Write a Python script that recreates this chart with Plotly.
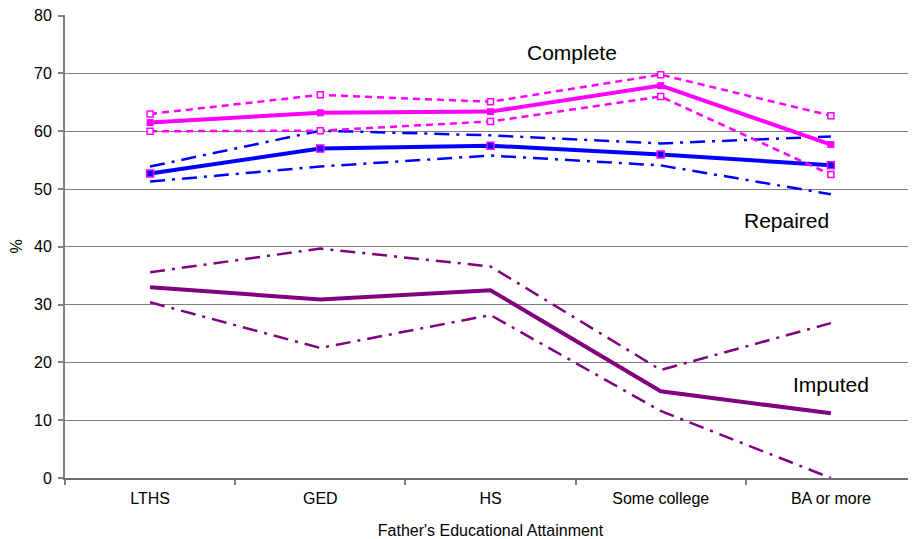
import plotly.graph_objects as go

categories = ["LTHS", "GED", "HS", "Some college", "BA or more"]

complete_mean = [61.5, 63.2, 63.4, 67.9, 57.7]
complete_upper = [63.0, 66.3, 65.1, 69.8, 62.7]
complete_lower = [60.0, 60.1, 61.7, 66.0, 52.5]

repaired_mean = [52.7, 57.0, 57.5, 56.0, 54.1]
repaired_upper = [53.9, 60.1, 59.3, 57.9, 59.1]
repaired_lower = [51.3, 53.9, 55.8, 54.1, 49.1]

imputed_mean = [33.0, 30.9, 32.5, 15.0, 11.2]
imputed_upper = [35.6, 39.7, 36.6, 18.7, 26.8]
imputed_lower = [30.4, 22.5, 28.2, 11.6, 0.0]

MAG = "#FF00FF"
BLUE = "#0000FF"
PURP = "#800080"
DASHDOT = "15px,7px,3px,7px"

fig = go.Figure()

# Imputed
fig.add_trace(go.Scatter(x=categories, y=imputed_upper, mode="lines",
                         line=dict(color=PURP, width=2.5, dash=DASHDOT)))
fig.add_trace(go.Scatter(x=categories, y=imputed_lower, mode="lines",
                         line=dict(color=PURP, width=2.5, dash=DASHDOT)))
fig.add_trace(go.Scatter(x=categories, y=imputed_mean, mode="lines",
                         line=dict(color=PURP, width=4)))

# Repaired
fig.add_trace(go.Scatter(x=categories, y=repaired_upper, mode="lines",
                         line=dict(color=BLUE, width=2.5, dash=DASHDOT)))
fig.add_trace(go.Scatter(x=categories, y=repaired_lower, mode="lines",
                         line=dict(color=BLUE, width=2.5, dash=DASHDOT)))
fig.add_trace(go.Scatter(x=categories, y=repaired_mean, mode="lines+markers",
                         line=dict(color=BLUE, width=4),
                         marker=dict(symbol="square", size=7, color=BLUE,
                                     line=dict(color=MAG, width=1.5))))

# Complete
fig.add_trace(go.Scatter(x=categories, y=complete_upper, mode="lines+markers",
                         line=dict(color=MAG, width=2.5, dash="7px,5px"),
                         marker=dict(symbol="square", size=6, color="white",
                                     line=dict(color=MAG, width=1.5))))
fig.add_trace(go.Scatter(x=categories, y=complete_lower, mode="lines+markers",
                         line=dict(color=MAG, width=2.5, dash="7px,5px"),
                         marker=dict(symbol="square", size=6, color="white",
                                     line=dict(color=MAG, width=1.5))))
fig.add_trace(go.Scatter(x=categories, y=complete_mean, mode="lines+markers",
                         line=dict(color=MAG, width=4),
                         marker=dict(symbol="square", size=7, color=MAG)))

font_family = "Liberation Sans, Arial, sans-serif"

fig.add_annotation(x=2.48, y=73.6, xref="x", yref="y", text="Complete",
                   showarrow=False, font=dict(size=21, color="black", family=font_family))
fig.add_annotation(x=3.74, y=44.6, xref="x", yref="y", text="Repaired",
                   showarrow=False, font=dict(size=21, color="black", family=font_family))
fig.add_annotation(x=4.0, y=16.2, xref="x", yref="y", text="Imputed",
                   showarrow=False, font=dict(size=21, color="black", family=font_family))

fig.update_layout(
    width=908, height=531,
    margin=dict(l=57, r=0, t=7, b=61, autoexpand=False),
    paper_bgcolor="white", plot_bgcolor="white",
    showlegend=False,
    font=dict(family=font_family, color="black"),
    xaxis=dict(
        type="category", tickson="boundaries", ticks="outside", ticklen=5,
        tickcolor="#808080", tickwidth=1.5,
        showgrid=False, showline=True, linecolor="#707070", linewidth=2,
        tickfont=dict(size=16), range=[-0.5, 4.5], automargin=False,
        ticklabelstandoff=5,
        title=dict(text="Father's Educational Attainment", font=dict(size=16), standoff=19),
    ),
    yaxis=dict(
        range=[0, 80.12], tickvals=[0, 10, 20, 30, 40, 50, 60, 70, 80],
        ticks="outside", ticklen=5,
        tickcolor="#808080", tickwidth=1.5,
        showgrid=True, gridcolor="#808080", gridwidth=1,
        showline=True, linecolor="#808080", linewidth=2,
        zeroline=False, automargin=False,
        tickfont=dict(size=16), ticklabelstandoff=3,
        ticklabeloverflow="allow",
        title=dict(text="%", font=dict(size=16), standoff=14),
    ),
)

fig.write_html("out.html")
